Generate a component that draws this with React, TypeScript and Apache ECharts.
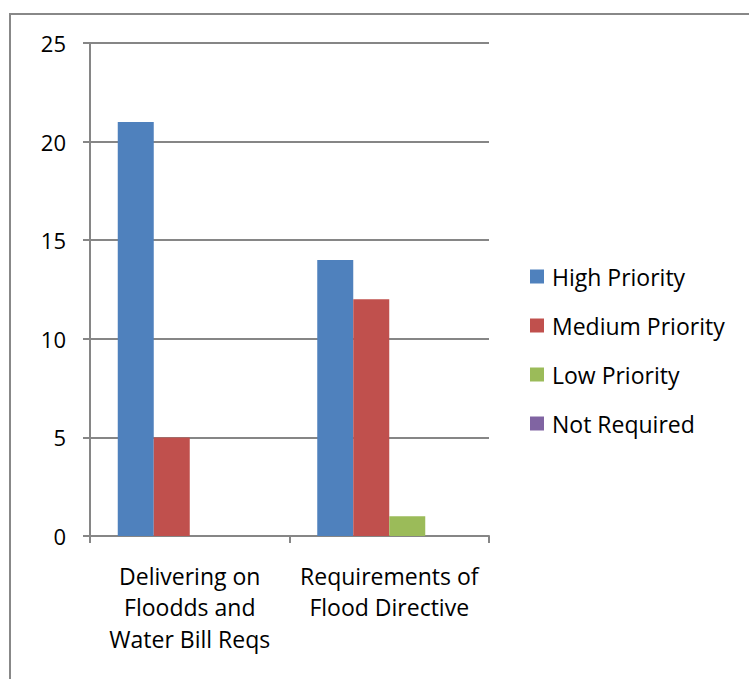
import React, { useEffect, useRef } from "react";
import * as echarts from "echarts";

const categories = [
  "Delivering on\nFloodds and\nWater Bill Reqs",
  "Requirements of\nFlood Directive",
];
const highPriority = [21, 14];
const mediumPriority = [5, 12];
const lowPriority = [0, 1];
const notRequired = [0, 0];

const seriesNames = ["High Priority", "Medium Priority", "Low Priority", "Not Required"];
const seriesColors = ["#4F81BD", "#C0504D", "#9BBB59", "#8064A2"];
const seriesValues = [highPriority, mediumPriority, lowPriority, notRequired];

const FONT = "'Open Sans', 'Liberation Sans', sans-serif";

export default function App() {
  const ref = useRef<HTMLDivElement>(null);

  useEffect(() => {
    if (!ref.current) return;
    const chart = echarts.init(ref.current, null, { renderer: "svg" });
    const axisGray = "#868686";
    chart.setOption({
      animation: false,
      backgroundColor: "#ffffff",
      textStyle: { fontFamily: FONT },
      grid: { left: 90, top: 43, width: 399, height: 493, containLabel: false },
      legend: {
        orient: "vertical",
        left: 525,
        top: 260,
        icon: "rect",
        itemWidth: 14,
        itemHeight: 14,
        itemGap: 26,
        textStyle: { fontFamily: FONT, fontSize: 23, lineHeight: 22, color: "#000", padding: [0, 0, 0, 3] },
        data: seriesNames,
      },
      xAxis: {
        type: "category",
        data: categories,
        axisLine: { lineStyle: { color: axisGray, width: 2 } },
        axisTick: { show: true, length: 7, lineStyle: { color: axisGray, width: 2 } },
        axisLabel: {
          margin: 24,
          fontSize: 23,
          lineHeight: 31.5,
          color: "#000",
          fontFamily: FONT,
          interval: 0,
        },
        splitLine: { show: false },
      },
      yAxis: {
        type: "value",
        min: 0,
        max: 25,
        interval: 5,
        axisLine: { show: true, lineStyle: { color: axisGray, width: 2 } },
        axisTick: { show: true, length: 7, lineStyle: { color: axisGray, width: 2 } },
        axisLabel: { margin: 24, fontSize: 22, color: "#000", fontFamily: FONT },
        splitLine: { show: true, lineStyle: { color: axisGray, width: 2 } },
      },
      series: seriesNames.map((name, i) => ({
        name,
        type: "bar",
        data: seriesValues[i],
        barWidth: 36,
        barGap: "0%",
        itemStyle: { color: seriesColors[i] },
      })),
      graphic: [
        {
          type: "rect",
          shape: { x: 10, y: 14, width: 900, height: 900 },
          style: { fill: "none", stroke: "#888888", lineWidth: 2 },
          silent: true,
          z: 100,
        },
      ],
    });
    return () => chart.dispose();
  }, []);

  return (
    <div
      ref={ref}
      style={{ position: "fixed", left: 0, top: 0, width: 749, height: 679 }}
    />
  );
}
